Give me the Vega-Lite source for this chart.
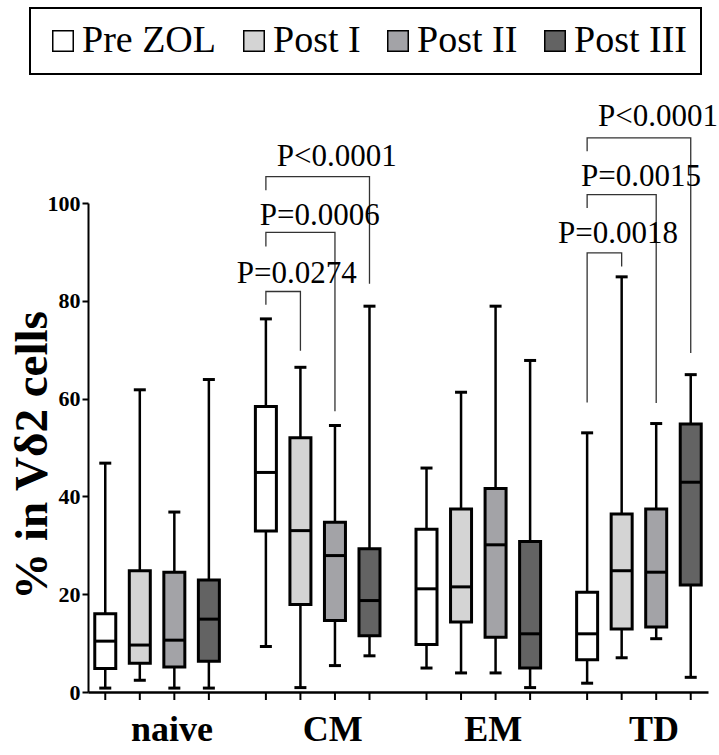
{
  "$schema": "https://vega.github.io/schema/vega-lite/v6.json",
  "width": 620,
  "height": 489,
  "autosize": {"type": "none"},
  "padding": {"left": 88, "top": 203, "right": 11, "bottom": 63},
  "config": {
    "view": {"stroke": null},
    "font": "Liberation Serif, Times New Roman, DejaVu Serif, serif",
    "legend": {"strokeWidth": 2}
  },
  "datasets": {
    "boxes": [
      {"group": "naive", "time": "Pre ZOL", "min": 0.8, "q1": 4.8, "median": 10.4, "q3": 16.0, "max": 46.8},
      {"group": "naive", "time": "Post I", "min": 2.4, "q1": 5.9, "median": 9.6, "q3": 24.8, "max": 61.8},
      {"group": "naive", "time": "Post II", "min": 0.8, "q1": 5.1, "median": 10.6, "q3": 24.5, "max": 36.8},
      {"group": "naive", "time": "Post III", "min": 0.8, "q1": 6.3, "median": 14.9, "q3": 22.9, "max": 63.9},
      {"group": "CM", "time": "Pre ZOL", "min": 9.3, "q1": 32.9, "median": 44.9, "q3": 58.4, "max": 76.3},
      {"group": "CM", "time": "Post I", "min": 0.9, "q1": 17.9, "median": 33.0, "q3": 52.0, "max": 66.4},
      {"group": "CM", "time": "Post II", "min": 5.4, "q1": 14.6, "median": 27.9, "q3": 34.7, "max": 54.5},
      {"group": "CM", "time": "Post III", "min": 7.4, "q1": 11.5, "median": 18.7, "q3": 29.3, "max": 78.9},
      {"group": "EM", "time": "Pre ZOL", "min": 4.9, "q1": 9.7, "median": 21.1, "q3": 33.3, "max": 45.8},
      {"group": "EM", "time": "Post I", "min": 3.9, "q1": 14.3, "median": 21.5, "q3": 37.4, "max": 61.3},
      {"group": "EM", "time": "Post II", "min": 3.9, "q1": 11.2, "median": 30.1, "q3": 41.6, "max": 78.9},
      {"group": "EM", "time": "Post III", "min": 0.9, "q1": 4.9, "median": 11.9, "q3": 30.8, "max": 67.8},
      {"group": "TD", "time": "Pre ZOL", "min": 1.8, "q1": 6.6, "median": 11.9, "q3": 20.4, "max": 53.0},
      {"group": "TD", "time": "Post I", "min": 7.0, "q1": 12.9, "median": 24.8, "q3": 36.4, "max": 84.9},
      {"group": "TD", "time": "Post II", "min": 10.9, "q1": 13.3, "median": 24.5, "q3": 37.4, "max": 54.9},
      {"group": "TD", "time": "Post III", "min": 3.0, "q1": 21.9, "median": 42.9, "q3": 54.8, "max": 64.9}
    ],
    "brackets": [
      {"id": "c1", "group": "CM", "time": "Pre ZOL", "v": 79.2, "seq": 1},
      {"id": "c1", "group": "CM", "time": "Pre ZOL", "v": 81.9, "seq": 2},
      {"id": "c1", "group": "CM", "time": "Post I", "v": 81.9, "seq": 3},
      {"id": "c1", "group": "CM", "time": "Post I", "v": 69.8, "seq": 4},
      {"id": "c2", "group": "CM", "time": "Pre ZOL", "v": 91.1, "seq": 1},
      {"id": "c2", "group": "CM", "time": "Pre ZOL", "v": 94.0, "seq": 2},
      {"id": "c2", "group": "CM", "time": "Post II", "v": 94.0, "seq": 3},
      {"id": "c2", "group": "CM", "time": "Post II", "v": 57.4, "seq": 4},
      {"id": "c3", "group": "CM", "time": "Pre ZOL", "v": 102.6, "seq": 1},
      {"id": "c3", "group": "CM", "time": "Pre ZOL", "v": 105.4, "seq": 2},
      {"id": "c3", "group": "CM", "time": "Post III", "v": 105.4, "seq": 3},
      {"id": "c3", "group": "CM", "time": "Post III", "v": 83.5, "seq": 4},
      {"id": "t1", "group": "TD", "time": "Pre ZOL", "v": 59.2, "seq": 1},
      {"id": "t1", "group": "TD", "time": "Pre ZOL", "v": 89.8, "seq": 2},
      {"id": "t1", "group": "TD", "time": "Post I", "v": 89.8, "seq": 3},
      {"id": "t1", "group": "TD", "time": "Post I", "v": 87.0, "seq": 4},
      {"id": "t2", "group": "TD", "time": "Pre ZOL", "v": 99.0, "seq": 1},
      {"id": "t2", "group": "TD", "time": "Pre ZOL", "v": 101.7, "seq": 2},
      {"id": "t2", "group": "TD", "time": "Post II", "v": 101.7, "seq": 3},
      {"id": "t2", "group": "TD", "time": "Post II", "v": 59.1, "seq": 4},
      {"id": "t3", "group": "TD", "time": "Pre ZOL", "v": 110.6, "seq": 1},
      {"id": "t3", "group": "TD", "time": "Pre ZOL", "v": 113.3, "seq": 2},
      {"id": "t3", "group": "TD", "time": "Post III", "v": 113.3, "seq": 3},
      {"id": "t3", "group": "TD", "time": "Post III", "v": 69.3, "seq": 4}
    ],
    "pvals": [
      {"group": "CM", "rank": 1, "label": "P=0.0274", "v": 83.6},
      {"group": "CM", "rank": 2, "label": "P=0.0006", "v": 95.6},
      {"group": "CM", "rank": 3, "label": "P<0.0001", "v": 107.5},
      {"group": "TD", "rank": 1, "label": "P=0.0018", "v": 91.8},
      {"group": "TD", "rank": 2, "label": "P=0.0015", "v": 103.4},
      {"group": "TD", "rank": 3, "label": "P<0.0001", "v": 115.7}
    ]
  },
  "encoding": {
    "x": {
      "field": "group", "type": "nominal", "sort": ["naive", "CM", "EM", "TD"],
      "scale": {"paddingInner": 0.14, "paddingOuter": 0},
      "axis": {
        "title": null, "ticks": false, "tickSize": 0, "labelAngle": 0,
        "labelFont": "Liberation Serif, Times New Roman, DejaVu Serif, serif", "labelFontSize": 36, "labelFontWeight": "bold", "labelColor": "black",
        "labelPadding": 20, "labelOffset": 15, "domainWidth": 2.5, "domainColor": "black"
      }
    }
  },
  "layer": [
    {
      "data": {"name": "boxes"},
      "mark": {"type": "rule", "color": "black", "strokeWidth": 2.5},
      "encoding": {
        "xOffset": {"field": "time", "type": "nominal", "sort": ["Pre ZOL", "Post I", "Post II", "Post III"], "scale": {"paddingInner": 0, "paddingOuter": 0}},
        "y": {
          "field": "min", "type": "quantitative",
          "scale": {"domain": [0, 100], "nice": false, "zero": true},
          "axis": {
            "values": [0, 20, 40, 60, 80, 100], "grid": false,
            "tickSize": 6, "tickWidth": 2, "tickColor": "black", "domainWidth": 2, "domainColor": "black",
            "labelFont": "Liberation Serif, Times New Roman, DejaVu Serif, serif", "labelFontWeight": "bold", "labelFontSize": 22, "labelColor": "black", "labelPadding": 2,
            "title": "% in Vδ2 cells", "titleFont": "Liberation Serif, Times New Roman, DejaVu Serif, serif", "titleFontSize": 47, "titleFontWeight": "bold", "titleColor": "black",
            "titleX": -56, "titleY": 252, "titleBaseline": "middle", "titleAngle": -90
          }
        },
        "y2": {"field": "max"}
      }
    },
    {
      "data": {"name": "boxes"},
      "mark": {"type": "bar", "size": 21, "stroke": "black", "strokeWidth": 3},
      "encoding": {
        "xOffset": {"field": "time", "type": "nominal", "sort": ["Pre ZOL", "Post I", "Post II", "Post III"]},
        "y": {"field": "q1", "type": "quantitative"},
        "y2": {"field": "q3"},
        "fill": {
          "field": "time", "type": "nominal",
          "scale": {"domain": ["Pre ZOL", "Post I", "Post II", "Post III"], "range": ["#ffffff", "#d4d4d4", "#a3a3a7", "#636363"]},
          "legend": {
            "orient": "none", "legendX": -58, "legendY": -195, "direction": "horizontal", "title": null,
            "symbolType": "square", "symbolSize": 420, "symbolStrokeColor": "black", "symbolStrokeWidth": 1.5,
            "labelFont": "Liberation Serif, Times New Roman, DejaVu Serif, serif", "labelFontSize": 38, "labelColor": "black", "labelOffset": 0,
            "columnPadding": 18, "padding": 14, "strokeColor": "black"
          }
        }
      }
    },
    {
      "data": {"name": "boxes"},
      "mark": {"type": "tick", "orient": "horizontal", "size": 22, "thickness": 3, "color": "black", "opacity": 1},
      "encoding": {
        "xOffset": {"field": "time", "type": "nominal", "sort": ["Pre ZOL", "Post I", "Post II", "Post III"]},
        "y": {"field": "median", "type": "quantitative"}
      }
    },
    {
      "data": {"name": "boxes"},
      "mark": {"type": "tick", "orient": "horizontal", "size": 12, "thickness": 3, "color": "black", "opacity": 1},
      "encoding": {
        "xOffset": {"field": "time", "type": "nominal", "sort": ["Pre ZOL", "Post I", "Post II", "Post III"]},
        "y": {"field": "min", "type": "quantitative"}
      }
    },
    {
      "data": {"name": "boxes"},
      "mark": {"type": "tick", "orient": "horizontal", "size": 12, "thickness": 3, "color": "black", "opacity": 1},
      "encoding": {
        "xOffset": {"field": "time", "type": "nominal", "sort": ["Pre ZOL", "Post I", "Post II", "Post III"]},
        "y": {"field": "max", "type": "quantitative"}
      }
    },
    {
      "data": {"name": "boxes"},
      "mark": {"type": "tick", "orient": "vertical", "size": 8, "thickness": 2, "color": "black", "opacity": 1, "yOffset": 4},
      "encoding": {
        "xOffset": {"field": "time", "type": "nominal", "sort": ["Pre ZOL", "Post I", "Post II", "Post III"]},
        "y": {"datum": 0}
      }
    },
    {
      "data": {"name": "brackets"},
      "mark": {"type": "line", "color": "#333333", "strokeWidth": 1.3},
      "encoding": {
        "xOffset": {"field": "time", "type": "nominal", "sort": ["Pre ZOL", "Post I", "Post II", "Post III"]},
        "y": {"field": "v", "type": "quantitative"},
        "detail": {"field": "id"},
        "order": {"field": "seq", "type": "quantitative"}
      }
    },
    {
      "data": {"name": "pvals"},
      "transform": [{"filter": "datum.rank == 1"}],
      "mark": {"type": "text", "fontSize": 31, "font": "Liberation Serif, Times New Roman, DejaVu Serif, serif", "baseline": "alphabetic", "align": "center", "dx": -21, "color": "black"},
      "encoding": {"y": {"field": "v", "type": "quantitative"}, "text": {"field": "label"}}
    },
    {
      "data": {"name": "pvals"},
      "transform": [{"filter": "datum.rank == 2"}],
      "mark": {"type": "text", "fontSize": 31, "font": "Liberation Serif, Times New Roman, DejaVu Serif, serif", "baseline": "alphabetic", "align": "center", "dx": 2, "color": "black"},
      "encoding": {"y": {"field": "v", "type": "quantitative"}, "text": {"field": "label"}}
    },
    {
      "data": {"name": "pvals"},
      "transform": [{"filter": "datum.rank == 3"}],
      "mark": {"type": "text", "fontSize": 31, "font": "Liberation Serif, Times New Roman, DejaVu Serif, serif", "baseline": "alphabetic", "align": "center", "dx": 19, "color": "black"},
      "encoding": {"y": {"field": "v", "type": "quantitative"}, "text": {"field": "label"}}
    }
  ]
}
